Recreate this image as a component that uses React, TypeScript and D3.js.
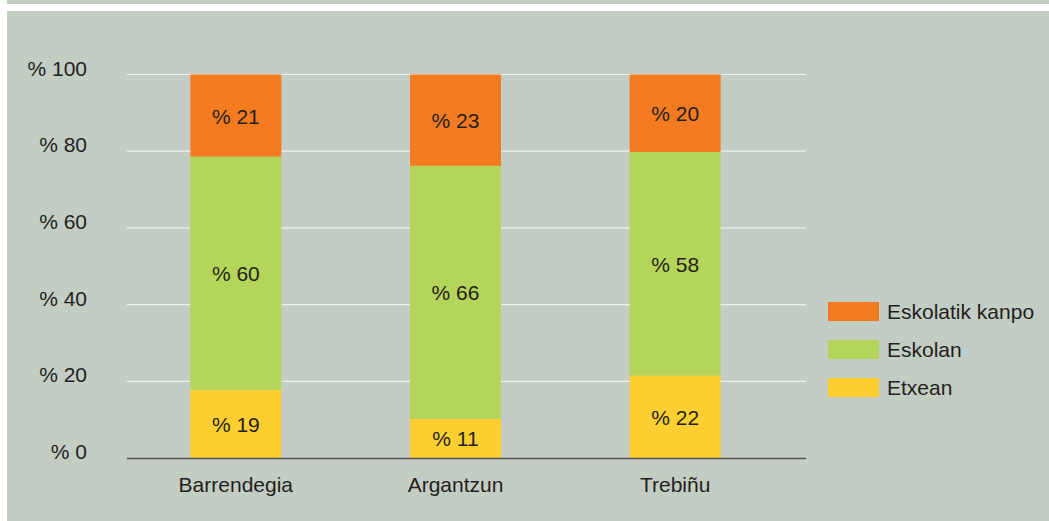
import * as d3 from 'd3';
import { useEffect, useRef } from 'react';

const categories = ['Barrendegia', 'Argantzun', 'Trebiñu'];
const seriesNames = ['Etxean', 'Eskolan', 'Eskolatik kanpo'];
// segment heights (bottom to top)
const etxean = [17.8, 10.2, 21.5];
const eskolan = [60.8, 66.0, 58.3];
const kanpo = [21.4, 23.8, 20.2];
// printed labels
const etxeanLabels = ['% 19', '% 11', '% 22'];
const eskolanLabels = ['% 60', '% 66', '% 58'];
const kanpoLabels = ['% 21', '% 23', '% 20'];
const yTicks = [0, 20, 40, 60, 80, 100];
const legendOrder = ['Eskolatik kanpo', 'Eskolan', 'Etxean'];

export default function App() {
    const ref = useRef<HTMLDivElement>(null);

    useEffect(() => {
        const width = 1049;
        const height = 521;
        const bg = '#c3cdc4';
        const textColor = '#231f20';
        const font = '"Liberation Sans", Arial, sans-serif';
        const fontSize = 21;
        const colors = ['#ffcf31', '#b5d55a', '#f47b20'];

        const svg = d3.create('svg')
            .attr('width', width)
            .attr('height', height)
            .style('display', 'block');

        svg.append('rect').attr('x', 0).attr('y', 0).attr('width', width).attr('height', height).attr('fill', '#fff');
        svg.append('rect').attr('x', 7).attr('y', 0).attr('width', width - 7).attr('height', 4).attr('fill', bg);
        svg.append('rect').attr('x', 7).attr('y', 11).attr('width', width - 7).attr('height', height - 11).attr('fill', bg);

        const y = d3.scaleLinear().domain([0, 100]).range([458, 74.5]);
        const x = d3.scaleBand<string>()
            .domain(categories)
            .range([126, 785])
            .paddingInner(0.586)
            .paddingOuter(0.293);

        const gridLeft = 127;
        const gridRight = 806;

        // gridlines
        svg.append('g')
            .selectAll('line')
            .data(yTicks.filter(d => d > 0))
            .join('line')
            .attr('x1', gridLeft)
            .attr('x2', gridRight)
            .attr('y1', d => y(d))
            .attr('y2', d => y(d))
            .attr('stroke', '#eef1ee')
            .attr('stroke-width', 1.2);

        // tick labels
        svg.append('g')
            .selectAll('text')
            .data(yTicks)
            .join('text')
            .attr('x', 87)
            .attr('y', d => y(d) + 1)
            .attr('text-anchor', 'end')
            .attr('font-family', font)
            .attr('font-size', fontSize)
            .attr('fill', textColor)
            .text(d => `% ${d}`);

        const table = categories.map((c, i) => ({ cat: c, Etxean: etxean[i], Eskolan: eskolan[i], 'Eskolatik kanpo': kanpo[i] }));
        const stacked = d3.stack<any>().keys(seriesNames)(table);
        const labels = [etxeanLabels, eskolanLabels, kanpoLabels];

        const layers = svg.append('g')
            .selectAll('g')
            .data(stacked)
            .join('g')
            .attr('fill', (d, i) => colors[i]);

        layers.selectAll('rect')
            .data(d => d)
            .join('rect')
            .attr('x', d => x(d.data.cat)!)
            .attr('width', x.bandwidth())
            .attr('y', d => y(d[1]))
            .attr('height', d => y(d[0]) - y(d[1]));

        stacked.forEach((layer, li) => {
            svg.append('g')
                .selectAll('text')
                .data(layer)
                .join('text')
                .attr('x', d => x(d.data.cat)! + x.bandwidth() / 2)
                .attr('y', d => (y(d[0]) + y(d[1])) / 2)
                .attr('dy', '0.38em')
                .attr('text-anchor', 'middle')
                .attr('font-family', font)
                .attr('font-size', fontSize)
                .attr('fill', textColor)
                .text((d, i) => labels[li][i]);
        });

        // baseline
        svg.append('line')
            .attr('x1', gridLeft)
            .attr('x2', gridRight)
            .attr('y1', y(0) + 0.5)
            .attr('y2', y(0) + 0.5)
            .attr('stroke', '#555')
            .attr('stroke-width', 1.6);

        // category labels
        svg.append('g')
            .selectAll('text')
            .data(categories)
            .join('text')
            .attr('x', d => x(d)! + x.bandwidth() / 2)
            .attr('y', 492)
            .attr('text-anchor', 'middle')
            .attr('font-family', font)
            .attr('font-size', fontSize)
            .attr('fill', textColor)
            .text(d => d);

        // legend
        const legend = svg.append('g')
            .selectAll('g')
            .data(legendOrder)
            .join('g')
            .attr('transform', (d, i) => `translate(828,${302 + i * 38})`);

        legend.append('rect')
            .attr('width', 51)
            .attr('height', 19)
            .attr('fill', d => colors[seriesNames.indexOf(d)]);

        legend.append('text')
            .attr('x', 59)
            .attr('y', 16.5)
            .attr('font-family', font)
            .attr('font-size', fontSize)
            .attr('fill', textColor)
            .text(d => d);

        ref.current!.innerHTML = '';
        ref.current!.append(svg.node()!);
    }, []);

    return (
        <div ref={ref} style={{ position: 'absolute', left: 0, top: 0 }}></div>
    );
}
